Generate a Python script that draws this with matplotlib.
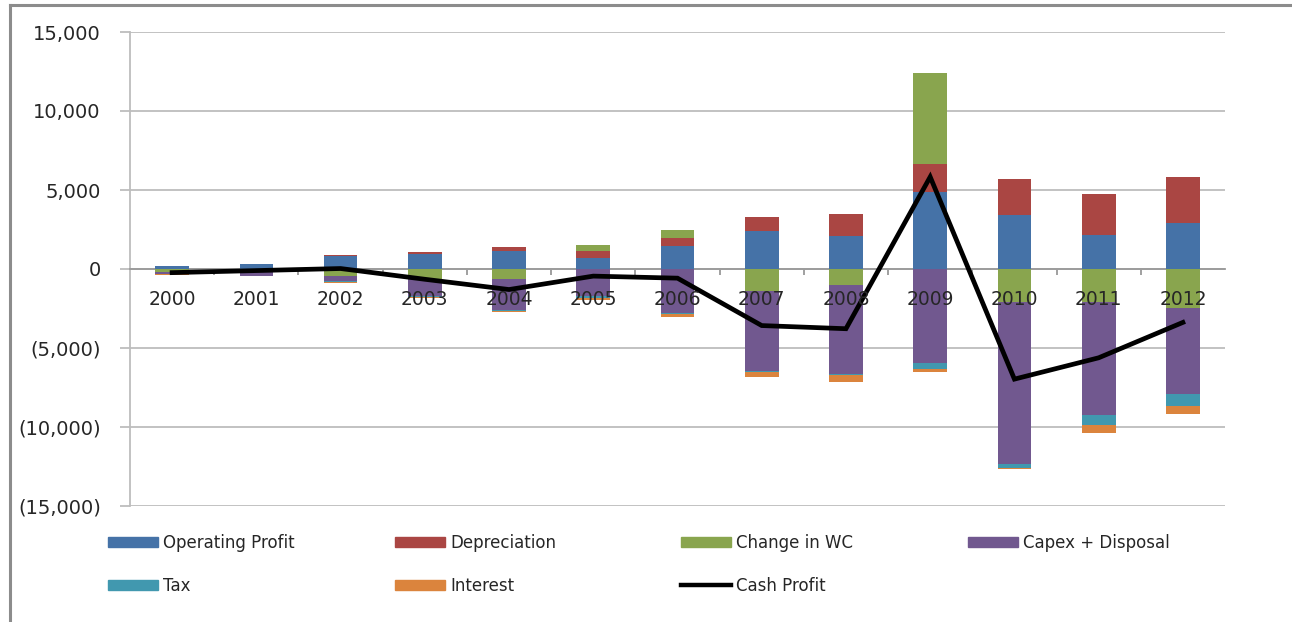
import matplotlib
matplotlib.use('Agg')
import matplotlib.pyplot as plt
from matplotlib.lines import Line2D
from matplotlib.patches import Patch
from matplotlib.ticker import FuncFormatter, FixedLocator
import numpy as np

# data
years = ['2000', '2001', '2002', '2003', '2004', '2005', '2006',
         '2007', '2008', '2009', '2010', '2011', '2012']
operating_profit = [170, 300, 825, 970, 1160, 700, 1440, 2430, 2070, 4900, 3445, 2155, 2915]
depreciation = [30, 20, 60, 80, 210, 420, 530, 890, 1395, 1750, 2260, 2600, 2935]
change_in_wc = [-170, 0, -465, -635, -635, 400, 510, -1415, -1015, 5750, -2115, -2115, -2470]
capex_disposal = [-170, -420, -320, -1100, -1945, -1730, -2810, -5070, -5640, -5920, -10250, -7140, -5450]
tax = [0, 0, -40, -40, -60, -80, -60, -60, -60, -420, -210, -615, -760]
interest = [-60, -40, -60, -40, -80, -170, -170, -320, -465, -210, -100, -485, -510]
cash_profit = [-230, -100, 30, -650, -1300, -450, -580, -3580, -3780, 5830, -6970, -5620, -3380]

names = ['Operating Profit', 'Depreciation', 'Change in WC', 'Capex + Disposal', 'Tax', 'Interest']
series = [operating_profit, depreciation, change_in_wc, capex_disposal, tax, interest]
colors = ['#4572A7', '#AA4643', '#89A54E', '#71588F', '#4198AF', '#DB843D']

fig = plt.figure(figsize=(12.92, 6.22), dpi=100)
ax = fig.add_axes([130 / 1292, 1 - 506 / 622, 1095 / 1292, 474 / 622])

x = np.arange(len(years))
pos_bottom = np.zeros(len(years))
neg_bottom = np.zeros(len(years))
for vals, c in zip(series, colors):
    v = np.array(vals, dtype=float)
    bottom = np.where(v >= 0, pos_bottom, neg_bottom)
    ax.bar(x, v, width=0.4, bottom=bottom, color=c, zorder=3)
    pos_bottom += np.where(v >= 0, v, 0)
    neg_bottom += np.where(v < 0, v, 0)

ax.plot(x, cash_profit, color='black', lw=3.4, zorder=4, solid_joinstyle='miter')

ax.set_xlim(-0.5, len(years) - 0.5)
ax.set_ylim(-15000, 15000)
ax.set_yticks(range(-15000, 15001, 5000))
ax.yaxis.set_major_formatter(FuncFormatter(
    lambda v, p: '({:,.0f})'.format(-v) if v < 0 else '{:,.0f}'.format(v)))
ax.grid(axis='y', color='#BDBDBD', lw=1.3, zorder=0)

for s in ['top', 'right']:
    ax.spines[s].set_visible(False)
ax.spines['left'].set_color('#BDBDBD')
ax.spines['left'].set_linewidth(1.3)
ax.spines['bottom'].set_position(('data', 0))
ax.spines['bottom'].set_color('#999999')
ax.spines['bottom'].set_linewidth(1.3)

# year labels sit just under the zero line, drawn over the bars
ax.set_xticks(x)
ax.set_xticklabels([])
ax.tick_params(axis='x', which='major', length=0)
for i, yr in enumerate(years):
    ax.annotate(yr, (i, 0), xytext=(0, -15), textcoords='offset points',
                ha='center', va='top', fontsize=13.5, color='#262626', zorder=6)
ax.xaxis.set_minor_locator(FixedLocator(np.arange(0.5, len(years) - 1, 1)))
ax.tick_params(axis='x', which='minor', length=4.5, color='#999999', width=1.3, direction='out')
ax.tick_params(axis='y', length=7, color='#BDBDBD', width=1.3, pad=14, labelsize=14, labelcolor='#262626')

# legend laid out in four columns like the original
handles = [Patch(color=c) for c in colors]
handles.append(Line2D([], [], color='black', lw=3.2))
labels = names + ['Cash Profit']
col_x = [108, 395, 681, 968]
columns = [[0, 4], [1, 5], [2, 6], [3]]
for cx, idx in zip(col_x, columns):
    fig.legend([handles[i] for i in idx], [labels[i] for i in idx],
               loc='upper left', bbox_to_anchor=(cx / 1292, 1 - 534 / 622),
               frameon=False, fontsize=12, handlelength=3.0, handleheight=0.6,
               handletextpad=0.3, labelspacing=1.5, borderaxespad=0, borderpad=0,
               labelcolor='#262626')

# chart border (top and left edges visible)
fig.add_artist(Line2D([10 / 1292, 1], [1 - 5 / 622, 1 - 5 / 622], color='#8C8C8C', lw=2.2))
fig.add_artist(Line2D([10 / 1292, 10 / 1292], [0, 1 - 5 / 622], color='#8C8C8C', lw=2.2))

fig.savefig('out.png', dpi=100)
